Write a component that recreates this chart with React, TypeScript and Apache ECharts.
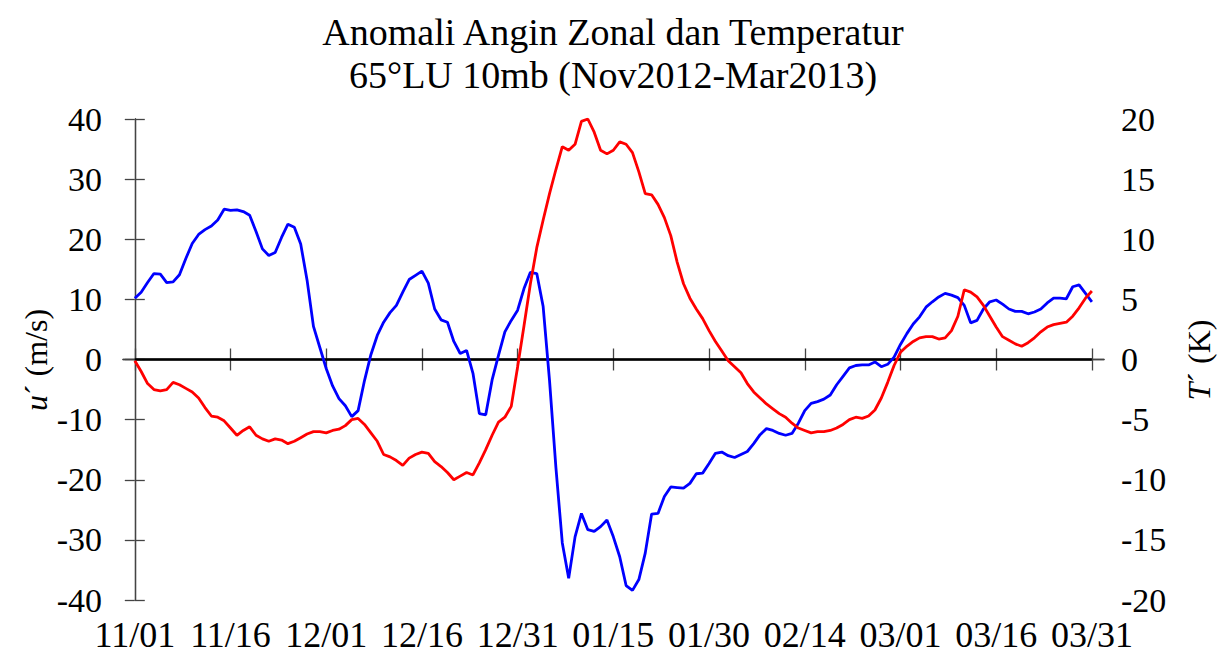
import React, { useEffect, useRef } from "react";
import * as echarts from "echarts";

// Day index 0 = 11/01/2012 ... 150 = 03/31/2013
const tickDays = [0, 15, 30, 45, 60, 75, 90, 105, 120, 135, 150];
const tickLabels = ["11/01", "11/16", "12/01", "12/16", "12/31", "01/15", "01/30", "02/14", "03/01", "03/16", "03/31"];

// Zonal wind anomaly u' (m/s), daily
const windU = [
  10.2, 11.2, 12.8, 14.3, 14.2, 12.8, 12.9, 14.1, 16.8, 19.3,
  20.8, 21.6, 22.2, 23.2, 25.0, 24.8, 24.9, 24.6, 24.0, 21.3,
  18.4, 17.3, 17.8, 20.3, 22.5, 22.0, 19.2, 13.2, 5.5, 2.0,
  -1.5, -4.4, -6.5, -7.7, -9.5, -8.5, -3.5, 0.8, 4.0, 6.2,
  7.8, 9.0, 11.2, 13.3, 14.0, 14.7, 12.7, 8.4, 6.6, 6.2,
  3.0, 1.0, 1.5, -2.3, -9.0, -9.2, -3.4, 0.7, 4.6, 6.5,
  8.2, 11.8, 14.5, 14.3, 8.8, -3.5, -18.0, -30.5, -36.4, -29.5,
  -25.6, -28.3, -28.6, -27.8, -26.7, -29.5, -32.8, -37.6, -38.4, -36.6,
  -32.2, -25.7, -25.6, -22.8, -21.2, -21.3, -21.4, -20.6, -19.0, -18.9,
  -17.3, -15.6, -15.4, -16.0, -16.3, -15.8, -15.3, -14.0, -12.5, -11.5,
  -11.8, -12.3, -12.6, -12.3, -10.6, -8.5, -7.3, -7.0, -6.6, -5.9,
  -4.2, -2.8, -1.4, -1.0, -0.9, -0.9, -0.4, -1.2, -0.8, 0.4,
  2.5, 4.3, 5.9, 7.1, 8.7, 9.6, 10.4, 11.0, 10.7, 10.3,
  9.0, 6.1, 6.5, 8.4, 9.6, 9.9, 9.2, 8.4, 8.0, 8.0,
  7.6, 7.9, 8.4, 9.4, 10.2, 10.2, 10.1, 12.1, 12.4, 11.0,
  9.6,
];

// Temperature anomaly T' (K), daily
const tempT = [
  -0.1, -1.0, -2.0, -2.5, -2.6, -2.5, -1.9, -2.1, -2.4, -2.7,
  -3.2, -4.0, -4.7, -4.8, -5.1, -5.7, -6.3, -5.9, -5.6, -6.3,
  -6.6, -6.8, -6.6, -6.7, -7.0, -6.8, -6.5, -6.2, -6.0, -6.0,
  -6.1, -5.9, -5.8, -5.5, -5.0, -4.9, -5.4, -6.1, -6.8, -7.9,
  -8.1, -8.4, -8.8, -8.2, -7.9, -7.7, -7.8, -8.5, -8.9, -9.4,
  -10.0, -9.7, -9.4, -9.6, -8.6, -7.5, -6.3, -5.2, -4.8, -3.9,
  -0.6, 2.8, 6.3, 9.3, 11.6, 13.8, 15.8, 17.7, 17.4, 17.9,
  19.8, 20.0, 18.9, 17.4, 17.1, 17.4, 18.1, 17.9, 17.2, 15.6,
  13.8, 13.7, 12.9, 11.8, 10.3, 8.1, 6.3, 5.1, 4.2, 3.4,
  2.4, 1.5, 0.7, -0.1, -0.6, -1.1, -2.0, -2.7, -3.2, -3.7,
  -4.1, -4.5, -4.8, -5.3, -5.7, -5.9, -6.1, -6.0, -6.0, -5.9,
  -5.7, -5.4, -5.0, -4.8, -4.9, -4.7, -4.2, -3.2, -1.9, -0.5,
  0.6, 1.1, 1.5, 1.8, 1.9, 1.9, 1.7, 1.8, 2.4, 3.6,
  5.8, 5.6, 5.2, 4.5, 3.6, 2.7, 1.9, 1.6, 1.3, 1.1,
  1.4, 1.8, 2.3, 2.7, 2.9, 3.0, 3.1, 3.6, 4.3, 5.1,
  5.7,
];

const zeroLine = [
  [0, 0],
  [150, 0],
];

const titleLine1 = "Anomali Angin Zonal dan Temperatur";
const titleLine2 = "65°LU 10mb (Nov2012-Mar2013)";

const FONT = "'Liberation Serif', 'Times New Roman', serif";
const AX = "#444";

export default function App() {
  const ref = useRef<HTMLDivElement>(null);

  useEffect(() => {
    document.body.style.margin = "0";
    if (!ref.current) return;
    const chart = echarts.init(ref.current, undefined, { renderer: "svg" });

    const xCommon = {
      type: "value" as const,
      min: -1.85,
      max: 151.9,
      splitLine: { show: false },
      axisLine: { show: true, lineStyle: { color: AX, width: 1.3 } },
    };

    chart.setOption({
      animation: false,
      backgroundColor: "#fff",
      textStyle: { fontFamily: FONT },
      grid: { left: 123, top: 119, width: 981, height: 481, containLabel: false },
      xAxis: [
        {
          ...xCommon,
          position: "bottom",
          axisTick: { show: true, length: 11, customValues: tickDays, lineStyle: { color: AX, width: 1.3 } },
          axisLabel: {
            show: true,
            customValues: tickDays,
            margin: 17,
            color: "#000",
            fontFamily: FONT,
            fontSize: 36,
            formatter: (v: number) => {
              const i = tickDays.indexOf(Math.round(v));
              return i >= 0 ? tickLabels[i] : "";
            },
          },
        },
        {
          ...xCommon,
          position: "top",
          axisTick: { show: true, length: 11, customValues: tickDays, lineStyle: { color: AX, width: 1.3 } },
          axisLabel: { show: false },
        },
      ],
      yAxis: [
        {
          type: "value",
          min: -40,
          max: 40,
          interval: 10,
          position: "left",
          splitLine: { show: false },
          axisLine: { show: true, lineStyle: { color: AX, width: 1.3 } },
          axisTick: { show: true, length: 10, lineStyle: { color: AX, width: 1.3 } },
          axisLabel: { margin: 21, color: "#000", fontFamily: FONT, fontSize: 34 },
        },
        {
          type: "value",
          min: -20,
          max: 20,
          interval: 5,
          position: "right",
          splitLine: { show: false },
          axisLine: { show: true, lineStyle: { color: AX, width: 1.3 } },
          axisTick: { show: true, length: 10, lineStyle: { color: AX, width: 1.3 } },
          axisLabel: { margin: 17, color: "#000", fontFamily: FONT, fontSize: 34 },
        },
      ],
      series: [
        {
          name: "zero",
          type: "line",
          xAxisIndex: 0,
          yAxisIndex: 0,
          data: zeroLine,
          symbol: "none",
          lineStyle: { color: "#000", width: 2.6 },
          silent: true,
        },
        {
          name: "u'",
          type: "line",
          xAxisIndex: 0,
          yAxisIndex: 0,
          data: windU.map((v, i) => [i, v]),
          symbol: "none",
          lineStyle: { color: "#0000ff", width: 2.8 },
        },
        {
          name: "T'",
          type: "line",
          xAxisIndex: 0,
          yAxisIndex: 1,
          data: tempT.map((v, i) => [i, v]),
          symbol: "none",
          lineStyle: { color: "#ff0000", width: 2.8 },
        },
      ],
      graphic: [
        {
          type: "text",
          x: 613,
          y: 32,
          style: { text: titleLine1, fontFamily: FONT, fontSize: 38, fill: "#000", align: "center", verticalAlign: "middle" },
        },
        {
          type: "text",
          x: 613,
          y: 75,
          style: { text: titleLine2, fontFamily: FONT, fontSize: 38, fill: "#000", align: "center", verticalAlign: "middle" },
        },
        {
          type: "text",
          x: 36,
          y: 360,
          rotation: Math.PI / 2,
          style: {
            text: "{i|u}´ (m/s)",
            fontFamily: FONT,
            fontSize: 32,
            fill: "#000",
            align: "center",
            verticalAlign: "middle",
            rich: { i: { fontStyle: "italic", fontFamily: FONT, fontSize: 32, fill: "#000" } },
          },
        },
        {
          type: "text",
          x: 1199,
          y: 360,
          rotation: Math.PI / 2,
          style: {
            text: "{i|T}´ (K)",
            fontFamily: FONT,
            fontSize: 32,
            fill: "#000",
            align: "center",
            verticalAlign: "middle",
            rich: { i: { fontStyle: "italic", fontFamily: FONT, fontSize: 32, fill: "#000" } },
          },
        },
      ],
    });

    return () => chart.dispose();
  }, []);

  return <div ref={ref} style={{ width: 1223, height: 655 }} />;
}
